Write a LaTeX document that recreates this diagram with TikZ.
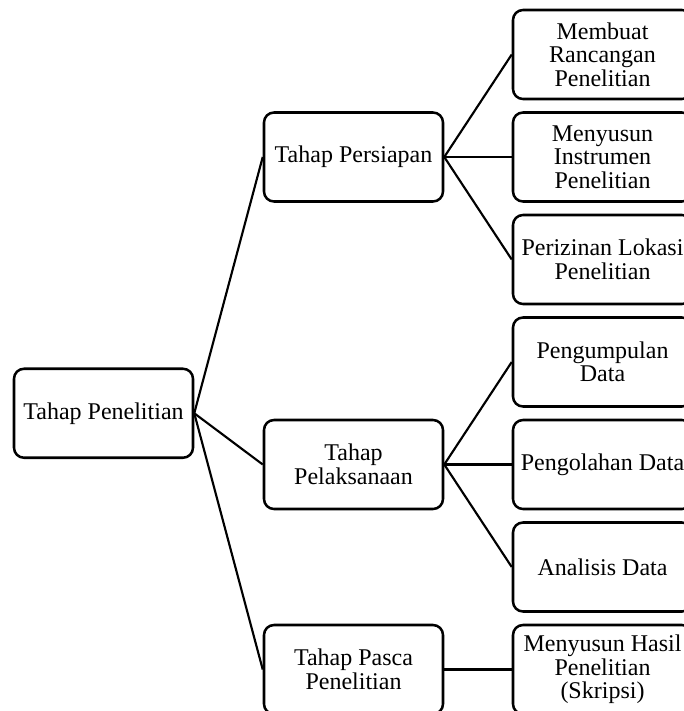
\documentclass[tikz,border=0pt]{standalone}
\usepackage{fontspec}
\setmainfont{Liberation Serif}
\tikzset{
	stagebox/.style={draw, line width=1.9pt, rounded corners=7.5pt, align=center,
		minimum width=134.25pt, minimum height=66.75pt, inner sep=0.75pt,
		font=\fontsize{18}{17.6}\selectfont},
	link/.style={line width=1.6pt}
}
\begin{document}
\begin{tikzpicture}[x=0.75pt,y=0.75pt,yscale=-1]
			\useasboundingbox (0,0) rectangle (683,711);
			
			%Rounded Rect [root]
			\draw (103.5,413.25) node [stagebox] (penelitian) {Tahap Penelitian};
			
			%Rounded Rect [middle column]
			\draw (353.5,157) node [stagebox] (persiapan) {Tahap Persiapan};
			\draw (353.5,464.5) node [stagebox] (pelaksanaan) {Tahap\\Pelaksanaan};
			\draw (353.5,669.5) node [stagebox] (pasca) {Tahap Pasca\\Penelitian};
			
			%Rounded Rect [right column]
			\draw (602.5,54.5) node [stagebox] (rancangan) {Membuat\\Rancangan\\Penelitian};
			\draw (602.5,157) node [stagebox] (instrumen) {Menyusun\\Instrumen\\Penelitian};
			\draw (602.5,259.5) node [stagebox] (perizinan) {Perizinan Lokasi\\Penelitian};
			\draw (602.5,362) node [stagebox] (pengumpulan) {Pengumpulan\\Data};
			\draw (602.5,464.5) node [stagebox] (pengolahan) {Pengolahan Data};
			\draw (602.5,567) node [stagebox] (analisis) {Analisis Data};
			\draw (602.5,669.5) node [stagebox] (skripsi) {Menyusun Hasil\\Penelitian\\(Skripsi)};
			
			%Straight Lines [root to stages]
			\draw [link] (penelitian.east) -- (persiapan.west);
			\draw [link] (penelitian.east) -- (pelaksanaan.west);
			\draw [link] (penelitian.east) -- (pasca.west);
			%Straight Lines [stages to steps]
			\draw [link] (persiapan.east) -- (rancangan.west);
			\draw [link] (persiapan.east) -- (instrumen.west);
			\draw [link] (persiapan.east) -- (perizinan.west);
			\draw [link] (pelaksanaan.east) -- (pengumpulan.west);
			\draw [link] (pelaksanaan.east) -- (pengolahan.west);
			\draw [link] (pelaksanaan.east) -- (analisis.west);
			\draw [link] (pasca.east) -- (skripsi.west);
			
\end{tikzpicture}
\end{document}
